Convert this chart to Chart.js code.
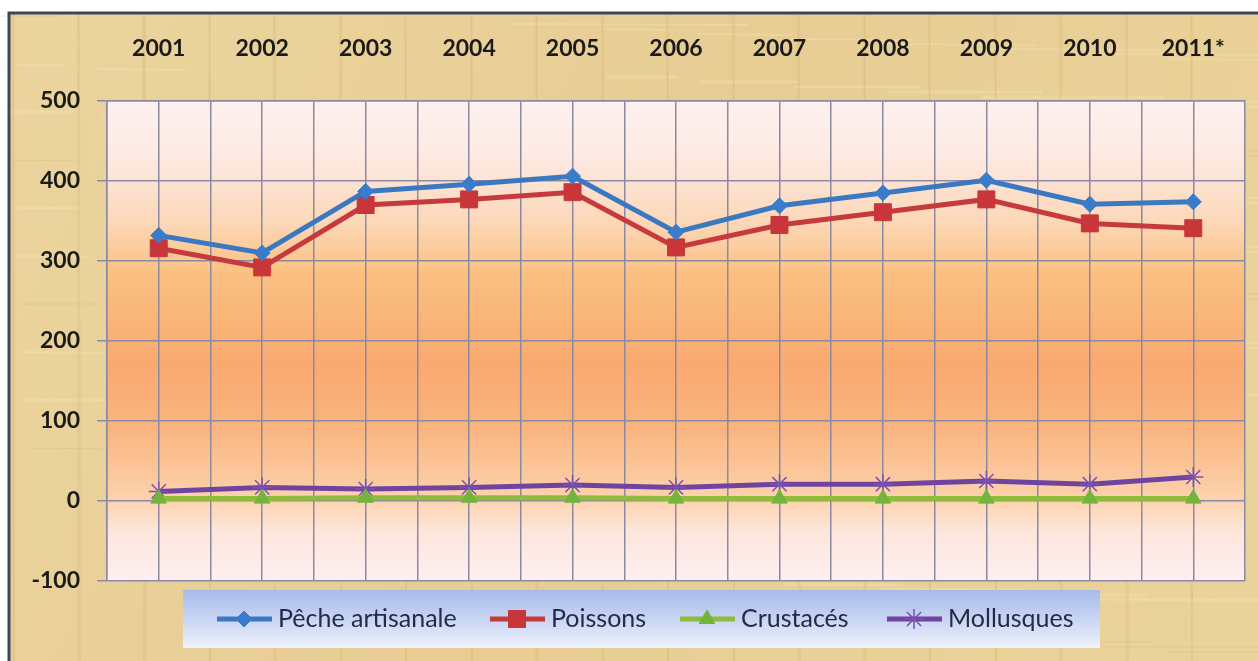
<!DOCTYPE html>
<html lang="fr">
<head>
<meta charset="UTF-8">
<title>Production halieutique</title>
<script src="https://cdn.jsdelivr.net/npm/chart.js"></script>
<style>
  html, body { margin: 0; padding: 0; background: #fff; }
  #wrap { width: 1258px; height: 661px; }
</style>
</head>
<body>
<div id="wrap"><canvas id="chart" width="1258" height="661"></canvas></div>
<script>
// years along the top axis
const years = ["2001", "2002", "2003", "2004", "2005", "2006", "2007", "2008", "2009", "2010", "2011*"];

// series values (thousand tonnes)
const pecheArtisanale = [332, 310, 387, 396, 406, 336, 369, 385, 401, 371, 374];
const poissons        = [316, 292, 370, 377, 386, 317, 345, 361, 377, 347, 341];
const crustaces       = [3, 3, 4, 4, 4, 3, 3, 3, 3, 3, 3];
const mollusques      = [12, 17, 15, 17, 20, 17, 21, 21, 25, 21, 30];

const yTicks = [-100, 0, 100, 200, 300, 400, 500];

function toPoints(values) {
  return values.map((v, i) => ({ x: i + 1, y: v }));
}

// papyrus background + gradient plot area
const backdrop = {
  id: 'backdrop',
  beforeDraw(chart) {
    const ctx = chart.ctx;
    const W = chart.width, H = chart.height;
    ctx.save();
    ctx.fillStyle = '#ffffff';
    ctx.fillRect(0, 0, W, H);

    const bg = ctx.createLinearGradient(0, 13, W, H);
    bg.addColorStop(0, '#ebd49e');
    bg.addColorStop(0.5, '#e7cd94');
    bg.addColorStop(1, '#ead39b');
    ctx.fillStyle = bg;
    ctx.fillRect(9, 13, W - 9, H - 13);

    // fibre streaks of the papyrus
    for (let i = 0; i < 120; i++) {
      const y = 16 + ((i * 53) % (H - 20));
      const x = (i * 97) % W;
      const len = 60 + (i * 31) % 200;
      ctx.strokeStyle = i % 3 === 0 ? 'rgba(205,170,100,0.22)' : 'rgba(248,232,185,0.30)';
      ctx.lineWidth = 1 + (i % 3);
      ctx.beginPath();
      ctx.moveTo(x, y);
      ctx.lineTo(Math.min(W, x + len), y + (i % 2));
      ctx.stroke();
    }
    for (let i = 0; i < 40; i++) {
      const x = 12 + ((i * 131) % (W - 14));
      ctx.strokeStyle = 'rgba(205,170,100,0.15)';
      ctx.lineWidth = 2;
      ctx.beginPath();
      ctx.moveTo(x, 14);
      ctx.lineTo(x + (i % 2), H);
      ctx.stroke();
    }

    ctx.strokeStyle = '#3e4656';
    ctx.lineWidth = 3;
    ctx.beginPath();
    ctx.moveTo(9, H);
    ctx.lineTo(9, 13);
    ctx.lineTo(W, 13);
    ctx.stroke();

    const a = chart.chartArea;
    const g = ctx.createLinearGradient(0, a.top, 0, a.bottom);
    g.addColorStop(0.00, '#fdf1f0');
    g.addColorStop(0.12, '#fde9e2');
    g.addColorStop(0.25, '#fcd8b8');
    g.addColorStop(0.36, '#fbc081');
    g.addColorStop(0.55, '#f9a970');
    g.addColorStop(0.68, '#fab47e');
    g.addColorStop(0.83, '#fcd2ae');
    g.addColorStop(0.90, '#fde6dc');
    g.addColorStop(1.00, '#fdeff2');
    ctx.fillStyle = g;
    ctx.fillRect(a.left, a.top, a.right - a.left, a.bottom - a.top);
    ctx.restore();
  }
};

// boxed legend under the plot, each entry is a line with its marker
const legendX = [217, 490, 680, 887];
const boxLegend = {
  id: 'boxLegend',
  afterDraw(chart) {
    const ctx = chart.ctx;
    const box = { x: 183, y: 590, w: 917, h: 58 };
    ctx.save();
    const g = ctx.createLinearGradient(0, box.y, 0, box.y + box.h);
    g.addColorStop(0, '#a7bbea');
    g.addColorStop(0.5, '#c8d5f2');
    g.addColorStop(1, '#eef2fb');
    ctx.fillStyle = g;
    ctx.fillRect(box.x, box.y, box.w, box.h);
    const cy = box.y + 29;
    chart.data.datasets.forEach((ds, i) => {
      const x0 = legendX[i];
      ctx.strokeStyle = ds.borderColor;
      ctx.lineWidth = 5;
      ctx.beginPath();
      ctx.moveTo(x0, cy);
      ctx.lineTo(x0 + 55, cy);
      ctx.stroke();
      ctx.fillStyle = ds.pointBackgroundColor;
      ctx.strokeStyle = ds.pointBorderColor;
      ctx.lineWidth = ds.pointBorderWidth;
      Chart.helpers.drawPoint(ctx, {
        pointStyle: ds.pointStyle,
        radius: ds.pointRadius,
        borderWidth: ds.pointBorderWidth
      }, x0 + 27, cy);
      ctx.fillStyle = '#232c45';
      ctx.font = '25px Lato';
      ctx.textBaseline = 'middle';
      ctx.textAlign = 'left';
      ctx.fillText(ds.label, x0 + 61, cy);
    });
    ctx.restore();
  }
};

function series(label, values, color, style, radius, pointColor) {
  return {
    label: label,
    data: toPoints(values),
    borderColor: color,
    backgroundColor: pointColor,
    pointBackgroundColor: pointColor,
    pointBorderColor: pointColor,
    borderWidth: 5,
    pointStyle: style,
    pointRadius: radius,
    pointHoverRadius: radius,
    pointBorderWidth: 1,
    tension: 0
  };
}

const datasets = [
  series('Pêche artisanale', pecheArtisanale, '#3b78c2', 'rectRot', 8, '#3a7cca'),
  series('Poissons', poissons, '#c63a3d', 'rect', 12, '#c8363a'),
  series('Crustacés', crustaces, '#8fbc3c', 'triangle', 9, '#72b43c'),
  series('Mollusques', mollusques, '#7043a0', 'star', 10, '#7a50b0')
];
datasets[3].pointBorderWidth = 1.5;

const gridColor = '#8b8aa2';

new Chart(document.getElementById('chart'), {
  type: 'line',
  data: { datasets: datasets },
  options: {
    responsive: false,
    animation: false,
    layout: { padding: { left: 0, top: 0, right: 12, bottom: 80 } },
    plugins: {
      legend: { display: false },
      tooltip: { enabled: false }
    },
    scales: {
      x: {
        type: 'linear',
        position: 'top',
        min: 0.5,
        max: 11.5,
        afterFit: s => {
          s.height = 101;
          s.paddingLeft = 0;
          s.paddingRight = 0;
        },
        afterBuildTicks: s => {
          const t = [];
          for (let i = 0; i <= 22; i++) t.push({ value: 0.5 + i * 0.5 });
          s.ticks = t;
        },
        grid: { color: gridColor, lineWidth: 1.5, drawTicks: false },
        border: { color: gridColor, width: 1.5 },
        ticks: {
          autoSkip: false,
          maxRotation: 0,
          padding: 39,
          color: '#1a1a1a',
          font: { family: 'Lato', size: 23, weight: 'bold' },
          callback: v => Number.isInteger(v) ? years[v - 1] : ''
        }
      },
      y: {
        min: -100,
        max: 500,
        afterFit: s => {
          s.width = 107;
          s.paddingTop = 0;
          s.paddingBottom = 0;
        },
        afterBuildTicks: s => { s.ticks = yTicks.map(v => ({ value: v })); },
        grid: { color: gridColor, lineWidth: 1.5, tickLength: 10 },
        border: { color: gridColor, width: 1.5 },
        ticks: {
          padding: 17,
          color: '#1a1a1a',
          font: { family: 'Lato', size: 23, weight: 'bold' }
        }
      }
    }
  },
  plugins: [backdrop, boxLegend]
});
</script>
</body>
</html>
